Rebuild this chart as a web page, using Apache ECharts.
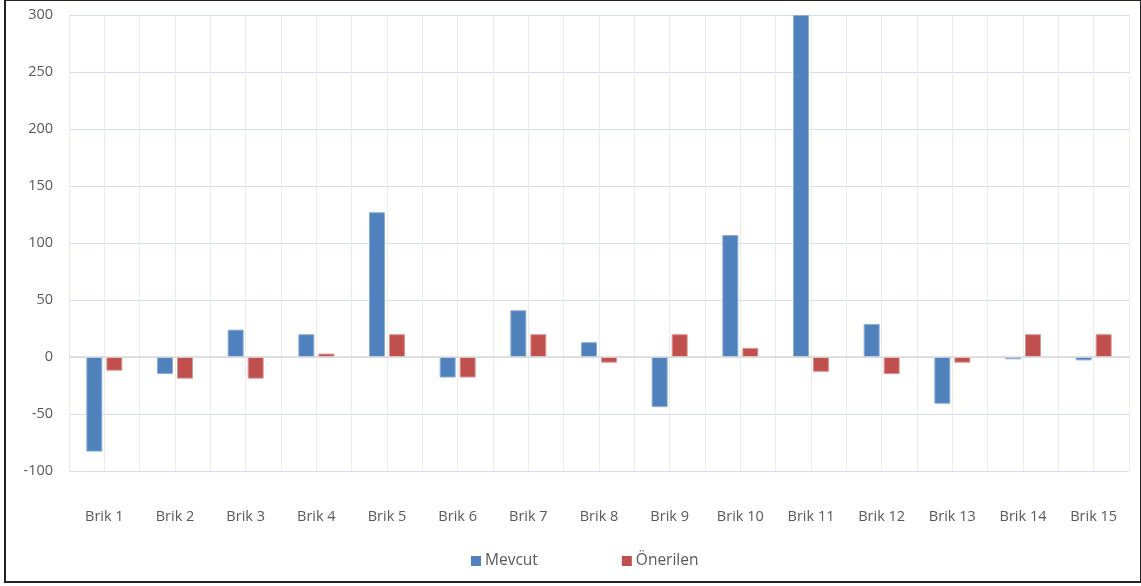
<!DOCTYPE html>
<html>
<head>
<meta charset="utf-8">
<script src="https://cdn.jsdelivr.net/npm/echarts@6/dist/echarts.min.js"></script>
<style>
  html, body { margin: 0; padding: 0; background: #fff; }
  #frame { position: absolute; left: 4px; top: 0px; width: 1134px; height: 580px; border: 2px solid #222; border-top-width: 1px; box-sizing: content-box; }
  #chart { position: absolute; left: 0; top: 0; width: 1141px; height: 586px; }
</style>
</head>
<body>
<div id="chart"></div>
<div id="frame"></div>
<script>
// Categories and series values
const categories = ['Brik 1', 'Brik 2', 'Brik 3', 'Brik 4', 'Brik 5', 'Brik 6', 'Brik 7', 'Brik 8',
  'Brik 9', 'Brik 10', 'Brik 11', 'Brik 12', 'Brik 13', 'Brik 14', 'Brik 15'];
const mevcut = [-83, -15, 24, 20, 127, -18, 41, 13, -44, 107, 300, 29, -41, -2, -3];
const onerilen = [-12, -19, -19, 3, 20, -18, 20, -5, 20, 8, -13, -15, -5, 20, 20];
const seriesNames = ['Mevcut', 'Önerilen'];

const textColor = '#595959';
const fontFamily = '"Open Sans", sans-serif';

const chart = echarts.init(document.getElementById('chart'), null, { renderer: 'canvas' });

chart.setOption({
  animation: false,
  backgroundColor: '#fff',
  textStyle: { fontFamily: fontFamily },
  grid: { left: 69, right: 12, top: 15, bottom: 115, containLabel: false },
  legend: {
    data: seriesNames,
    left: 466,
    top: 548,
    icon: 'rect',
    itemWidth: 10,
    itemHeight: 10,
    itemGap: 84,
    itemStyle: { borderWidth: 0 },
    textStyle: { color: textColor, fontSize: 15.5, fontFamily: fontFamily, padding: [0, 0, 0, -1] }
  },
  xAxis: [
    {
      type: 'category',
      data: categories,
      axisLine: { show: false, onZero: false },
      axisTick: { show: false },
      splitLine: { show: false },
      axisLabel: { color: textColor, fontSize: 14.5, margin: 38, fontFamily: fontFamily }
    },
    {
      // half-category vertical gridlines
      type: 'value',
      min: 0,
      max: 30,
      interval: 1,
      show: true,
      axisLine: { show: false },
      axisTick: { show: false },
      axisLabel: { show: false },
      splitLine: { show: true, lineStyle: { color: '#ebebeb', width: 1 } }
    }
  ],
  yAxis: {
    type: 'value',
    min: -100,
    max: 300,
    interval: 50,
    axisLine: { show: false },
    axisTick: { show: false },
    axisLabel: { color: textColor, fontSize: 14.5, margin: 16, fontFamily: fontFamily },
    splitLine: { lineStyle: { color: '#d2ddef', width: 1 } }
  },
  series: [
    {
      name: seriesNames[0],
      type: 'bar',
      xAxisIndex: 0,
      data: mevcut,
      barWidth: 16,
      barGap: '25%',
      itemStyle: { color: '#4f81bd', borderColor: '#8eaed6', borderWidth: 1 },
      markLine: {
        silent: true,
        symbol: 'none',
        label: { show: false },
        lineStyle: { color: '#d9d9d9', width: 1.5, type: 'solid' },
        data: [{ yAxis: 0 }]
      },
      z: 3
    },
    {
      name: seriesNames[1],
      type: 'bar',
      xAxisIndex: 0,
      data: onerilen,
      barWidth: 16,
      barGap: '25%',
      itemStyle: { color: '#c0504d', borderColor: '#dc9593', borderWidth: 1 },
      z: 3
    }
  ]
});
</script>
</body>
</html>
